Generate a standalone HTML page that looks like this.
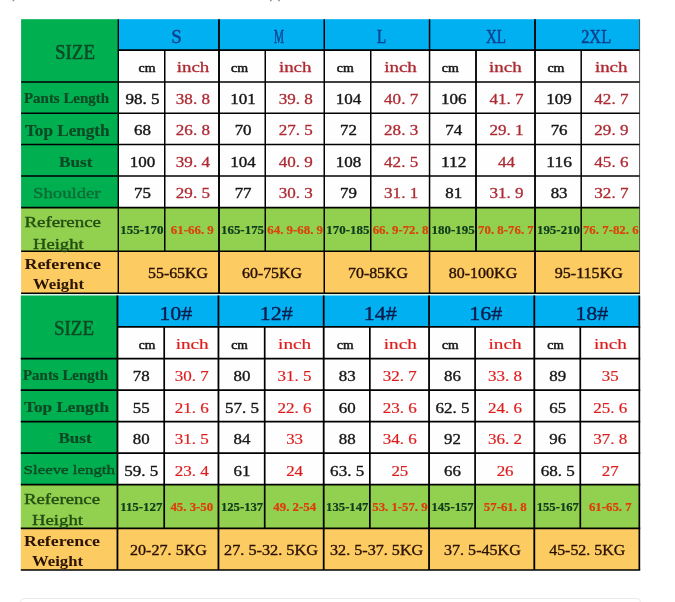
<!DOCTYPE html>
<html lang="en"><head><meta charset="utf-8"><title>Size chart</title>
<style>
html,body{margin:0;padding:0;background:#fff;overflow:hidden}
svg{display:block}
text{font-family:"Liberation Serif","Noto Serif CJK SC",serif;white-space:pre;stroke-linejoin:round}
</style></head><body>
<svg width="675" height="602" viewBox="0 0 675 602">
<defs>
<filter id="soft1" x="-2%" y="-2%" width="104%" height="104%"><feGaussianBlur stdDeviation="0.33"/></filter>
<filter id="soft2" x="-2%" y="-2%" width="104%" height="104%"><feGaussianBlur stdDeviation="0.25"/></filter>
</defs>
<rect width="675" height="602" fill="#ffffff"/>
<g filter="url(#soft1)">
<rect x="21.10" y="19.20" width="97.20" height="188.40" fill="#02af50"/>
<rect x="118.30" y="19.20" width="521.30" height="30.90" fill="#02b0f0"/>
<rect x="118.30" y="50.10" width="521.30" height="157.50" fill="#fefefe"/>
<rect x="21.10" y="207.60" width="618.50" height="43.60" fill="#92d050"/>
<rect x="21.10" y="251.20" width="618.50" height="42.10" fill="#fccb62"/>
<line x1="118.30" y1="50.10" x2="640.05" y2="50.10" stroke="#000000" stroke-width="1.55"/>
<line x1="21.10" y1="81.90" x2="640.05" y2="81.90" stroke="#000000" stroke-width="1.55"/>
<line x1="21.10" y1="113.20" x2="640.05" y2="113.20" stroke="#000000" stroke-width="1.55"/>
<line x1="21.10" y1="144.50" x2="640.05" y2="144.50" stroke="#000000" stroke-width="1.55"/>
<line x1="21.10" y1="176.00" x2="640.05" y2="176.00" stroke="#000000" stroke-width="1.55"/>
<line x1="21.10" y1="207.60" x2="640.05" y2="207.60" stroke="#000000" stroke-width="1.55"/>
<line x1="21.10" y1="251.20" x2="640.05" y2="251.20" stroke="#000000" stroke-width="1.55"/>
<line x1="21.10" y1="293.30" x2="640.05" y2="293.30" stroke="#000000" stroke-width="1.55"/>
<line x1="118.30" y1="19.20" x2="118.30" y2="293.30" stroke="#000000" stroke-width="1.4"/>
<line x1="164.75" y1="50.10" x2="164.75" y2="251.20" stroke="#000000" stroke-width="1.5"/>
<line x1="219.00" y1="19.20" x2="219.00" y2="293.30" stroke="#000000" stroke-width="1.9"/>
<line x1="265.25" y1="50.10" x2="265.25" y2="251.20" stroke="#000000" stroke-width="1.5"/>
<line x1="324.25" y1="19.20" x2="324.25" y2="293.30" stroke="#000000" stroke-width="1.5"/>
<line x1="370.75" y1="50.10" x2="370.75" y2="251.20" stroke="#000000" stroke-width="1.5"/>
<line x1="429.55" y1="19.20" x2="429.55" y2="293.30" stroke="#000000" stroke-width="1.5"/>
<line x1="476.00" y1="50.10" x2="476.00" y2="251.20" stroke="#000000" stroke-width="1.85"/>
<line x1="535.00" y1="19.20" x2="535.00" y2="293.30" stroke="#000000" stroke-width="1.85"/>
<line x1="581.20" y1="50.10" x2="581.20" y2="251.20" stroke="#000000" stroke-width="1.5"/>
<line x1="639.60" y1="19.20" x2="639.60" y2="293.30" stroke="#3a3a3a" stroke-width="0.9"/>
<text x="75.00" y="59.00" font-size="20.5" fill="#0b4a24" text-anchor="middle" stroke="#0b4a24" stroke-width="0.5" textLength="40.0" lengthAdjust="spacingAndGlyphs">SIZE</text>
<text x="176.60" y="43.20" font-size="19.2" fill="#0c3f8f" text-anchor="middle" stroke="#0c3f8f" stroke-width="0.45" textLength="10.5" lengthAdjust="spacingAndGlyphs">S</text>
<text x="279.00" y="43.20" font-size="19.2" fill="#0c3f8f" text-anchor="middle" stroke="#0c3f8f" stroke-width="0.45" textLength="10.0" lengthAdjust="spacingAndGlyphs">M</text>
<text x="381.50" y="43.20" font-size="19.2" fill="#0c3f8f" text-anchor="middle" stroke="#0c3f8f" stroke-width="0.45" textLength="9.2" lengthAdjust="spacingAndGlyphs">L</text>
<text x="496.00" y="43.20" font-size="19.2" fill="#0c3f8f" text-anchor="middle" stroke="#0c3f8f" stroke-width="0.45" textLength="20.0" lengthAdjust="spacingAndGlyphs">XL</text>
<text x="596.20" y="43.20" font-size="19.2" fill="#0c3f8f" text-anchor="middle" stroke="#0c3f8f" stroke-width="0.45" textLength="30.0" lengthAdjust="spacingAndGlyphs">2XL</text>
<text x="147.10" y="72.20" font-size="12.5" fill="#161616" text-anchor="middle" stroke="#161616" stroke-width="0.5" textLength="17.0" lengthAdjust="spacingAndGlyphs">cm</text>
<text x="239.60" y="72.20" font-size="12.5" fill="#161616" text-anchor="middle" stroke="#161616" stroke-width="0.5" textLength="17.0" lengthAdjust="spacingAndGlyphs">cm</text>
<text x="345.30" y="72.20" font-size="12.5" fill="#161616" text-anchor="middle" stroke="#161616" stroke-width="0.5" textLength="17.0" lengthAdjust="spacingAndGlyphs">cm</text>
<text x="450.30" y="72.20" font-size="12.5" fill="#161616" text-anchor="middle" stroke="#161616" stroke-width="0.5" textLength="17.0" lengthAdjust="spacingAndGlyphs">cm</text>
<text x="555.90" y="72.20" font-size="12.5" fill="#161616" text-anchor="middle" stroke="#161616" stroke-width="0.5" textLength="17.0" lengthAdjust="spacingAndGlyphs">cm</text>
<text x="193.00" y="72.30" font-size="15" fill="#ae2a33" text-anchor="middle" stroke="#ae2a33" stroke-width="0.3" textLength="32.6" lengthAdjust="spacingAndGlyphs">inch</text>
<text x="295.20" y="72.30" font-size="15" fill="#ae2a33" text-anchor="middle" stroke="#ae2a33" stroke-width="0.3" textLength="32.6" lengthAdjust="spacingAndGlyphs">inch</text>
<text x="400.50" y="72.30" font-size="15" fill="#ae2a33" text-anchor="middle" stroke="#ae2a33" stroke-width="0.3" textLength="32.6" lengthAdjust="spacingAndGlyphs">inch</text>
<text x="505.30" y="72.30" font-size="15" fill="#ae2a33" text-anchor="middle" stroke="#ae2a33" stroke-width="0.3" textLength="32.6" lengthAdjust="spacingAndGlyphs">inch</text>
<text x="611.20" y="72.30" font-size="15" fill="#ae2a33" text-anchor="middle" stroke="#ae2a33" stroke-width="0.3" textLength="32.6" lengthAdjust="spacingAndGlyphs">inch</text>
<text x="66.50" y="103.00" font-size="14" fill="#0b4a24" text-anchor="middle" font-weight="bold" stroke="#0b4a24" stroke-width="0.2" textLength="85.0" lengthAdjust="spacingAndGlyphs">Pants Length</text>
<text x="67.30" y="135.60" font-size="16" fill="#0b4a24" text-anchor="middle" font-weight="bold" stroke="#0b4a24" stroke-width="0.2" textLength="84.6" lengthAdjust="spacingAndGlyphs">Top Length</text>
<text x="75.70" y="166.60" font-size="15.5" fill="#0b4a24" text-anchor="middle" font-weight="bold" stroke="#0b4a24" stroke-width="0.2" textLength="33.4" lengthAdjust="spacingAndGlyphs">Bust</text>
<text x="66.80" y="198.00" font-size="15.5" fill="#0c6a33" text-anchor="middle" stroke="#0c6a33" stroke-width="0.3" textLength="67.6" lengthAdjust="spacingAndGlyphs">Shoulder</text>
<text x="142.53" y="104.10" font-size="15.2" fill="#161616" text-anchor="middle" stroke="#161616" stroke-width="0.4" textLength="34.1" lengthAdjust="spacingAndGlyphs">98. 5</text>
<text x="192.88" y="104.10" font-size="15.2" fill="#ae2a33" text-anchor="middle" stroke="#ae2a33" stroke-width="0.3" textLength="34.1" lengthAdjust="spacingAndGlyphs">38. 8</text>
<text x="243.12" y="104.10" font-size="15.2" fill="#161616" text-anchor="middle" stroke="#161616" stroke-width="0.4" textLength="25.5" lengthAdjust="spacingAndGlyphs">101</text>
<text x="295.75" y="104.10" font-size="15.2" fill="#ae2a33" text-anchor="middle" stroke="#ae2a33" stroke-width="0.3" textLength="34.1" lengthAdjust="spacingAndGlyphs">39. 8</text>
<text x="348.50" y="104.10" font-size="15.2" fill="#161616" text-anchor="middle" stroke="#161616" stroke-width="0.4" textLength="25.5" lengthAdjust="spacingAndGlyphs">104</text>
<text x="401.15" y="104.10" font-size="15.2" fill="#ae2a33" text-anchor="middle" stroke="#ae2a33" stroke-width="0.3" textLength="34.1" lengthAdjust="spacingAndGlyphs">40. 7</text>
<text x="453.77" y="104.10" font-size="15.2" fill="#161616" text-anchor="middle" stroke="#161616" stroke-width="0.4" textLength="25.5" lengthAdjust="spacingAndGlyphs">106</text>
<text x="506.50" y="104.10" font-size="15.2" fill="#ae2a33" text-anchor="middle" stroke="#ae2a33" stroke-width="0.3" textLength="34.1" lengthAdjust="spacingAndGlyphs">41. 7</text>
<text x="559.10" y="104.10" font-size="15.2" fill="#161616" text-anchor="middle" stroke="#161616" stroke-width="0.4" textLength="25.5" lengthAdjust="spacingAndGlyphs">109</text>
<text x="611.40" y="104.10" font-size="15.2" fill="#ae2a33" text-anchor="middle" stroke="#ae2a33" stroke-width="0.3" textLength="34.1" lengthAdjust="spacingAndGlyphs">42. 7</text>
<text x="142.53" y="135.40" font-size="15.2" fill="#161616" text-anchor="middle" stroke="#161616" stroke-width="0.4" textLength="16.9" lengthAdjust="spacingAndGlyphs">68</text>
<text x="192.88" y="135.40" font-size="15.2" fill="#ae2a33" text-anchor="middle" stroke="#ae2a33" stroke-width="0.3" textLength="34.1" lengthAdjust="spacingAndGlyphs">26. 8</text>
<text x="243.12" y="135.40" font-size="15.2" fill="#161616" text-anchor="middle" stroke="#161616" stroke-width="0.4" textLength="16.9" lengthAdjust="spacingAndGlyphs">70</text>
<text x="295.75" y="135.40" font-size="15.2" fill="#ae2a33" text-anchor="middle" stroke="#ae2a33" stroke-width="0.3" textLength="34.1" lengthAdjust="spacingAndGlyphs">27. 5</text>
<text x="348.50" y="135.40" font-size="15.2" fill="#161616" text-anchor="middle" stroke="#161616" stroke-width="0.4" textLength="16.9" lengthAdjust="spacingAndGlyphs">72</text>
<text x="401.15" y="135.40" font-size="15.2" fill="#ae2a33" text-anchor="middle" stroke="#ae2a33" stroke-width="0.3" textLength="34.1" lengthAdjust="spacingAndGlyphs">28. 3</text>
<text x="453.77" y="135.40" font-size="15.2" fill="#161616" text-anchor="middle" stroke="#161616" stroke-width="0.4" textLength="16.9" lengthAdjust="spacingAndGlyphs">74</text>
<text x="506.50" y="135.40" font-size="15.2" fill="#ae2a33" text-anchor="middle" stroke="#ae2a33" stroke-width="0.3" textLength="34.1" lengthAdjust="spacingAndGlyphs">29. 1</text>
<text x="559.10" y="135.40" font-size="15.2" fill="#161616" text-anchor="middle" stroke="#161616" stroke-width="0.4" textLength="16.9" lengthAdjust="spacingAndGlyphs">76</text>
<text x="611.40" y="135.40" font-size="15.2" fill="#ae2a33" text-anchor="middle" stroke="#ae2a33" stroke-width="0.3" textLength="34.1" lengthAdjust="spacingAndGlyphs">29. 9</text>
<text x="142.53" y="166.70" font-size="15.2" fill="#161616" text-anchor="middle" stroke="#161616" stroke-width="0.4" textLength="25.5" lengthAdjust="spacingAndGlyphs">100</text>
<text x="192.88" y="166.70" font-size="15.2" fill="#ae2a33" text-anchor="middle" stroke="#ae2a33" stroke-width="0.3" textLength="34.1" lengthAdjust="spacingAndGlyphs">39. 4</text>
<text x="243.12" y="166.70" font-size="15.2" fill="#161616" text-anchor="middle" stroke="#161616" stroke-width="0.4" textLength="25.5" lengthAdjust="spacingAndGlyphs">104</text>
<text x="295.75" y="166.70" font-size="15.2" fill="#ae2a33" text-anchor="middle" stroke="#ae2a33" stroke-width="0.3" textLength="34.1" lengthAdjust="spacingAndGlyphs">40. 9</text>
<text x="348.50" y="166.70" font-size="15.2" fill="#161616" text-anchor="middle" stroke="#161616" stroke-width="0.4" textLength="25.5" lengthAdjust="spacingAndGlyphs">108</text>
<text x="401.15" y="166.70" font-size="15.2" fill="#ae2a33" text-anchor="middle" stroke="#ae2a33" stroke-width="0.3" textLength="34.1" lengthAdjust="spacingAndGlyphs">42. 5</text>
<text x="453.77" y="166.70" font-size="15.2" fill="#161616" text-anchor="middle" stroke="#161616" stroke-width="0.4" textLength="25.5" lengthAdjust="spacingAndGlyphs">112</text>
<text x="506.50" y="166.70" font-size="15.2" fill="#ae2a33" text-anchor="middle" stroke="#ae2a33" stroke-width="0.3" textLength="16.9" lengthAdjust="spacingAndGlyphs">44</text>
<text x="559.10" y="166.70" font-size="15.2" fill="#161616" text-anchor="middle" stroke="#161616" stroke-width="0.4" textLength="25.5" lengthAdjust="spacingAndGlyphs">116</text>
<text x="611.40" y="166.70" font-size="15.2" fill="#ae2a33" text-anchor="middle" stroke="#ae2a33" stroke-width="0.3" textLength="34.1" lengthAdjust="spacingAndGlyphs">45. 6</text>
<text x="142.53" y="198.20" font-size="15.2" fill="#161616" text-anchor="middle" stroke="#161616" stroke-width="0.4" textLength="16.9" lengthAdjust="spacingAndGlyphs">75</text>
<text x="192.88" y="198.20" font-size="15.2" fill="#ae2a33" text-anchor="middle" stroke="#ae2a33" stroke-width="0.3" textLength="34.1" lengthAdjust="spacingAndGlyphs">29. 5</text>
<text x="243.12" y="198.20" font-size="15.2" fill="#161616" text-anchor="middle" stroke="#161616" stroke-width="0.4" textLength="16.9" lengthAdjust="spacingAndGlyphs">77</text>
<text x="295.75" y="198.20" font-size="15.2" fill="#ae2a33" text-anchor="middle" stroke="#ae2a33" stroke-width="0.3" textLength="34.1" lengthAdjust="spacingAndGlyphs">30. 3</text>
<text x="348.50" y="198.20" font-size="15.2" fill="#161616" text-anchor="middle" stroke="#161616" stroke-width="0.4" textLength="16.9" lengthAdjust="spacingAndGlyphs">79</text>
<text x="401.15" y="198.20" font-size="15.2" fill="#ae2a33" text-anchor="middle" stroke="#ae2a33" stroke-width="0.3" textLength="34.1" lengthAdjust="spacingAndGlyphs">31. 1</text>
<text x="453.77" y="198.20" font-size="15.2" fill="#161616" text-anchor="middle" stroke="#161616" stroke-width="0.4" textLength="16.9" lengthAdjust="spacingAndGlyphs">81</text>
<text x="506.50" y="198.20" font-size="15.2" fill="#ae2a33" text-anchor="middle" stroke="#ae2a33" stroke-width="0.3" textLength="34.1" lengthAdjust="spacingAndGlyphs">31. 9</text>
<text x="559.10" y="198.20" font-size="15.2" fill="#161616" text-anchor="middle" stroke="#161616" stroke-width="0.4" textLength="16.9" lengthAdjust="spacingAndGlyphs">83</text>
<text x="611.40" y="198.20" font-size="15.2" fill="#ae2a33" text-anchor="middle" stroke="#ae2a33" stroke-width="0.3" textLength="34.1" lengthAdjust="spacingAndGlyphs">32. 7</text>
<text x="62.70" y="226.60" font-size="15.5" fill="#234d12" text-anchor="middle" stroke="#234d12" stroke-width="0.4" textLength="76.6" lengthAdjust="spacingAndGlyphs">Reference</text>
<text x="58.30" y="248.60" font-size="15.5" fill="#234d12" text-anchor="middle" stroke="#234d12" stroke-width="0.4" textLength="50.6" lengthAdjust="spacingAndGlyphs">Height</text>
<text x="141.93" y="233.60" font-size="12" fill="#0e3a1c" text-anchor="middle" font-weight="bold" stroke="#0e3a1c" stroke-width="0.2" textLength="43.1" lengthAdjust="spacingAndGlyphs">155-170</text>
<text x="192.28" y="233.60" font-size="12" fill="#d9440c" text-anchor="middle" font-weight="bold" stroke="#d9440c" stroke-width="0.2" textLength="43.1" lengthAdjust="spacingAndGlyphs">61-66. 9</text>
<text x="242.53" y="233.60" font-size="12" fill="#0e3a1c" text-anchor="middle" font-weight="bold" stroke="#0e3a1c" stroke-width="0.2" textLength="43.1" lengthAdjust="spacingAndGlyphs">165-175</text>
<text x="295.15" y="233.60" font-size="12" fill="#d9440c" text-anchor="middle" font-weight="bold" stroke="#d9440c" stroke-width="0.2" textLength="55.7" lengthAdjust="spacingAndGlyphs">64. 9-68. 9</text>
<text x="347.90" y="233.60" font-size="12" fill="#0e3a1c" text-anchor="middle" font-weight="bold" stroke="#0e3a1c" stroke-width="0.2" textLength="43.1" lengthAdjust="spacingAndGlyphs">170-185</text>
<text x="400.55" y="233.60" font-size="12" fill="#d9440c" text-anchor="middle" font-weight="bold" stroke="#d9440c" stroke-width="0.2" textLength="55.7" lengthAdjust="spacingAndGlyphs">66. 9-72. 8</text>
<text x="453.17" y="233.60" font-size="12" fill="#0e3a1c" text-anchor="middle" font-weight="bold" stroke="#0e3a1c" stroke-width="0.2" textLength="43.1" lengthAdjust="spacingAndGlyphs">180-195</text>
<text x="505.90" y="233.60" font-size="12" fill="#d9440c" text-anchor="middle" font-weight="bold" stroke="#d9440c" stroke-width="0.2" textLength="55.7" lengthAdjust="spacingAndGlyphs">70. 8-76. 7</text>
<text x="558.50" y="233.60" font-size="12" fill="#0e3a1c" text-anchor="middle" font-weight="bold" stroke="#0e3a1c" stroke-width="0.2" textLength="43.1" lengthAdjust="spacingAndGlyphs">195-210</text>
<text x="610.80" y="233.60" font-size="12" fill="#d9440c" text-anchor="middle" font-weight="bold" stroke="#d9440c" stroke-width="0.2" textLength="55.7" lengthAdjust="spacingAndGlyphs">76. 7-82. 6</text>
<text x="62.70" y="268.60" font-size="15.5" fill="#2a1206" text-anchor="middle" font-weight="bold" textLength="76.6" lengthAdjust="spacingAndGlyphs">Reference</text>
<text x="58.50" y="289.00" font-size="15.5" fill="#2a1206" text-anchor="middle" font-weight="bold" textLength="51.0" lengthAdjust="spacingAndGlyphs">Weight</text>
<text x="178.00" y="278.20" font-size="15.2" fill="#2a1206" text-anchor="middle" stroke="#2a1206" stroke-width="0.4" textLength="60.0" lengthAdjust="spacingAndGlyphs">55-65KG</text>
<text x="272.00" y="278.20" font-size="15.2" fill="#2a1206" text-anchor="middle" stroke="#2a1206" stroke-width="0.4" textLength="60.0" lengthAdjust="spacingAndGlyphs">60-75KG</text>
<text x="378.00" y="278.20" font-size="15.2" fill="#2a1206" text-anchor="middle" stroke="#2a1206" stroke-width="0.4" textLength="60.0" lengthAdjust="spacingAndGlyphs">70-85KG</text>
<text x="483.00" y="278.20" font-size="15.2" fill="#2a1206" text-anchor="middle" stroke="#2a1206" stroke-width="0.4" textLength="68.4" lengthAdjust="spacingAndGlyphs">80-100KG</text>
<text x="588.80" y="278.20" font-size="15.2" fill="#2a1206" text-anchor="middle" stroke="#2a1206" stroke-width="0.4" textLength="68.0" lengthAdjust="spacingAndGlyphs">95-115KG</text>
<rect x="21.10" y="294.00" width="619.00" height="1.50" fill="#dcf2e2"/>
</g>
<g filter="url(#soft2)">
<rect x="20.80" y="295.50" width="96.65" height="189.20" fill="#02af50"/>
<rect x="117.45" y="295.50" width="521.90" height="31.40" fill="#02b0f0"/>
<rect x="117.45" y="326.90" width="521.90" height="157.80" fill="#fefefe"/>
<rect x="20.80" y="484.70" width="618.55" height="43.60" fill="#92d050"/>
<rect x="20.80" y="528.30" width="618.55" height="41.70" fill="#fccb62"/>
<line x1="117.45" y1="326.90" x2="640.20" y2="326.90" stroke="#000000" stroke-width="1.7"/>
<line x1="20.80" y1="358.70" x2="640.20" y2="358.70" stroke="#000000" stroke-width="1.7"/>
<line x1="20.80" y1="390.10" x2="640.20" y2="390.10" stroke="#000000" stroke-width="1.7"/>
<line x1="20.80" y1="421.60" x2="640.20" y2="421.60" stroke="#000000" stroke-width="1.7"/>
<line x1="20.80" y1="453.20" x2="640.20" y2="453.20" stroke="#000000" stroke-width="1.7"/>
<line x1="20.80" y1="484.70" x2="640.20" y2="484.70" stroke="#000000" stroke-width="1.7"/>
<line x1="20.80" y1="528.30" x2="640.20" y2="528.30" stroke="#000000" stroke-width="1.7"/>
<line x1="20.80" y1="570.00" x2="640.20" y2="570.00" stroke="#000000" stroke-width="1.7"/>
<line x1="117.45" y1="295.50" x2="117.45" y2="570.00" stroke="#000000" stroke-width="1.8"/>
<line x1="164.20" y1="326.90" x2="164.20" y2="528.30" stroke="#000000" stroke-width="1.7"/>
<line x1="218.45" y1="295.50" x2="218.45" y2="570.00" stroke="#000000" stroke-width="1.8"/>
<line x1="264.70" y1="326.90" x2="264.70" y2="528.30" stroke="#000000" stroke-width="1.7"/>
<line x1="323.70" y1="295.50" x2="323.70" y2="570.00" stroke="#000000" stroke-width="1.8"/>
<line x1="369.85" y1="326.90" x2="369.85" y2="528.30" stroke="#000000" stroke-width="1.7"/>
<line x1="429.05" y1="295.50" x2="429.05" y2="570.00" stroke="#000000" stroke-width="1.8"/>
<line x1="475.10" y1="326.90" x2="475.10" y2="528.30" stroke="#000000" stroke-width="1.7"/>
<line x1="534.30" y1="295.50" x2="534.30" y2="570.00" stroke="#000000" stroke-width="1.8"/>
<line x1="580.30" y1="326.90" x2="580.30" y2="528.30" stroke="#000000" stroke-width="1.7"/>
<line x1="639.35" y1="295.50" x2="639.35" y2="570.00" stroke="#000000" stroke-width="1.7"/>
<text x="74.00" y="335.00" font-size="20" fill="#0b4a24" text-anchor="middle" stroke="#0b4a24" stroke-width="0.5" textLength="40.0" lengthAdjust="spacingAndGlyphs">SIZE</text>
<text x="175.70" y="320.00" font-size="19.5" fill="#0a1c4c" text-anchor="middle" stroke="#0a1c4c" stroke-width="0.35" textLength="33.0" lengthAdjust="spacingAndGlyphs">10#</text>
<text x="276.20" y="320.00" font-size="19.5" fill="#0a1c4c" text-anchor="middle" stroke="#0a1c4c" stroke-width="0.35" textLength="33.0" lengthAdjust="spacingAndGlyphs">12#</text>
<text x="380.20" y="320.00" font-size="19.5" fill="#0a1c4c" text-anchor="middle" stroke="#0a1c4c" stroke-width="0.35" textLength="33.0" lengthAdjust="spacingAndGlyphs">14#</text>
<text x="485.80" y="320.00" font-size="19.5" fill="#0a1c4c" text-anchor="middle" stroke="#0a1c4c" stroke-width="0.35" textLength="33.0" lengthAdjust="spacingAndGlyphs">16#</text>
<text x="591.80" y="320.00" font-size="19.5" fill="#0a1c4c" text-anchor="middle" stroke="#0a1c4c" stroke-width="0.35" textLength="33.0" lengthAdjust="spacingAndGlyphs">18#</text>
<text x="147.00" y="348.90" font-size="12.5" fill="#161616" text-anchor="middle" stroke="#161616" stroke-width="0.5" textLength="16.6" lengthAdjust="spacingAndGlyphs">cm</text>
<text x="239.60" y="348.90" font-size="12.5" fill="#161616" text-anchor="middle" stroke="#161616" stroke-width="0.5" textLength="16.6" lengthAdjust="spacingAndGlyphs">cm</text>
<text x="345.30" y="348.90" font-size="12.5" fill="#161616" text-anchor="middle" stroke="#161616" stroke-width="0.5" textLength="16.6" lengthAdjust="spacingAndGlyphs">cm</text>
<text x="450.40" y="348.90" font-size="12.5" fill="#161616" text-anchor="middle" stroke="#161616" stroke-width="0.5" textLength="16.6" lengthAdjust="spacingAndGlyphs">cm</text>
<text x="555.60" y="348.90" font-size="12.5" fill="#161616" text-anchor="middle" stroke="#161616" stroke-width="0.5" textLength="16.6" lengthAdjust="spacingAndGlyphs">cm</text>
<text x="192.20" y="349.00" font-size="15" fill="#de1f1f" text-anchor="middle" stroke="#de1f1f" stroke-width="0.2" textLength="33.0" lengthAdjust="spacingAndGlyphs">inch</text>
<text x="294.60" y="349.00" font-size="15" fill="#de1f1f" text-anchor="middle" stroke="#de1f1f" stroke-width="0.2" textLength="33.0" lengthAdjust="spacingAndGlyphs">inch</text>
<text x="400.30" y="349.00" font-size="15" fill="#de1f1f" text-anchor="middle" stroke="#de1f1f" stroke-width="0.2" textLength="33.0" lengthAdjust="spacingAndGlyphs">inch</text>
<text x="505.00" y="349.00" font-size="15" fill="#de1f1f" text-anchor="middle" stroke="#de1f1f" stroke-width="0.2" textLength="33.0" lengthAdjust="spacingAndGlyphs">inch</text>
<text x="610.40" y="349.00" font-size="15" fill="#de1f1f" text-anchor="middle" stroke="#de1f1f" stroke-width="0.2" textLength="33.0" lengthAdjust="spacingAndGlyphs">inch</text>
<text x="65.50" y="379.60" font-size="14" fill="#0b4a24" text-anchor="middle" font-weight="bold" stroke="#0b4a24" stroke-width="0.2" textLength="85.0" lengthAdjust="spacingAndGlyphs">Pants Length</text>
<text x="66.50" y="412.00" font-size="15.5" fill="#0b4a24" text-anchor="middle" font-weight="bold" stroke="#0b4a24" stroke-width="0.2" textLength="85.0" lengthAdjust="spacingAndGlyphs">Top Length</text>
<text x="75.00" y="443.00" font-size="15" fill="#0b4a24" text-anchor="middle" font-weight="bold" stroke="#0b4a24" stroke-width="0.2" textLength="33.2" lengthAdjust="spacingAndGlyphs">Bust</text>
<text x="69.30" y="474.00" font-size="12.5" fill="#0b4a24" text-anchor="middle" stroke="#0b4a24" stroke-width="0.35" textLength="91.4" lengthAdjust="spacingAndGlyphs">Sleeve length</text>
<text x="141.22" y="381.20" font-size="15.2" fill="#161616" text-anchor="middle" stroke="#161616" stroke-width="0.35" textLength="16.9" lengthAdjust="spacingAndGlyphs">78</text>
<text x="191.72" y="381.20" font-size="15.2" fill="#de1f1f" text-anchor="middle" stroke="#de1f1f" stroke-width="0.2" textLength="34.1" lengthAdjust="spacingAndGlyphs">30. 7</text>
<text x="241.97" y="381.20" font-size="15.2" fill="#161616" text-anchor="middle" stroke="#161616" stroke-width="0.35" textLength="16.9" lengthAdjust="spacingAndGlyphs">80</text>
<text x="294.60" y="381.20" font-size="15.2" fill="#de1f1f" text-anchor="middle" stroke="#de1f1f" stroke-width="0.2" textLength="34.1" lengthAdjust="spacingAndGlyphs">31. 5</text>
<text x="347.17" y="381.20" font-size="15.2" fill="#161616" text-anchor="middle" stroke="#161616" stroke-width="0.35" textLength="16.9" lengthAdjust="spacingAndGlyphs">83</text>
<text x="399.85" y="381.20" font-size="15.2" fill="#de1f1f" text-anchor="middle" stroke="#de1f1f" stroke-width="0.2" textLength="34.1" lengthAdjust="spacingAndGlyphs">32. 7</text>
<text x="452.48" y="381.20" font-size="15.2" fill="#161616" text-anchor="middle" stroke="#161616" stroke-width="0.35" textLength="16.9" lengthAdjust="spacingAndGlyphs">86</text>
<text x="505.10" y="381.20" font-size="15.2" fill="#de1f1f" text-anchor="middle" stroke="#de1f1f" stroke-width="0.2" textLength="34.1" lengthAdjust="spacingAndGlyphs">33. 8</text>
<text x="557.70" y="381.20" font-size="15.2" fill="#161616" text-anchor="middle" stroke="#161616" stroke-width="0.35" textLength="16.9" lengthAdjust="spacingAndGlyphs">89</text>
<text x="610.23" y="381.20" font-size="15.2" fill="#de1f1f" text-anchor="middle" stroke="#de1f1f" stroke-width="0.2" textLength="16.9" lengthAdjust="spacingAndGlyphs">35</text>
<text x="141.22" y="412.60" font-size="15.2" fill="#161616" text-anchor="middle" stroke="#161616" stroke-width="0.35" textLength="16.9" lengthAdjust="spacingAndGlyphs">55</text>
<text x="191.72" y="412.60" font-size="15.2" fill="#de1f1f" text-anchor="middle" stroke="#de1f1f" stroke-width="0.2" textLength="34.1" lengthAdjust="spacingAndGlyphs">21. 6</text>
<text x="241.97" y="412.60" font-size="15.2" fill="#161616" text-anchor="middle" stroke="#161616" stroke-width="0.35" textLength="34.1" lengthAdjust="spacingAndGlyphs">57. 5</text>
<text x="294.60" y="412.60" font-size="15.2" fill="#de1f1f" text-anchor="middle" stroke="#de1f1f" stroke-width="0.2" textLength="34.1" lengthAdjust="spacingAndGlyphs">22. 6</text>
<text x="347.17" y="412.60" font-size="15.2" fill="#161616" text-anchor="middle" stroke="#161616" stroke-width="0.35" textLength="16.9" lengthAdjust="spacingAndGlyphs">60</text>
<text x="399.85" y="412.60" font-size="15.2" fill="#de1f1f" text-anchor="middle" stroke="#de1f1f" stroke-width="0.2" textLength="34.1" lengthAdjust="spacingAndGlyphs">23. 6</text>
<text x="452.48" y="412.60" font-size="15.2" fill="#161616" text-anchor="middle" stroke="#161616" stroke-width="0.35" textLength="34.1" lengthAdjust="spacingAndGlyphs">62. 5</text>
<text x="505.10" y="412.60" font-size="15.2" fill="#de1f1f" text-anchor="middle" stroke="#de1f1f" stroke-width="0.2" textLength="34.1" lengthAdjust="spacingAndGlyphs">24. 6</text>
<text x="557.70" y="412.60" font-size="15.2" fill="#161616" text-anchor="middle" stroke="#161616" stroke-width="0.35" textLength="16.9" lengthAdjust="spacingAndGlyphs">65</text>
<text x="610.23" y="412.60" font-size="15.2" fill="#de1f1f" text-anchor="middle" stroke="#de1f1f" stroke-width="0.2" textLength="34.1" lengthAdjust="spacingAndGlyphs">25. 6</text>
<text x="141.22" y="444.10" font-size="15.2" fill="#161616" text-anchor="middle" stroke="#161616" stroke-width="0.35" textLength="16.9" lengthAdjust="spacingAndGlyphs">80</text>
<text x="191.72" y="444.10" font-size="15.2" fill="#de1f1f" text-anchor="middle" stroke="#de1f1f" stroke-width="0.2" textLength="34.1" lengthAdjust="spacingAndGlyphs">31. 5</text>
<text x="241.97" y="444.10" font-size="15.2" fill="#161616" text-anchor="middle" stroke="#161616" stroke-width="0.35" textLength="16.9" lengthAdjust="spacingAndGlyphs">84</text>
<text x="294.60" y="444.10" font-size="15.2" fill="#de1f1f" text-anchor="middle" stroke="#de1f1f" stroke-width="0.2" textLength="16.9" lengthAdjust="spacingAndGlyphs">33</text>
<text x="347.17" y="444.10" font-size="15.2" fill="#161616" text-anchor="middle" stroke="#161616" stroke-width="0.35" textLength="16.9" lengthAdjust="spacingAndGlyphs">88</text>
<text x="399.85" y="444.10" font-size="15.2" fill="#de1f1f" text-anchor="middle" stroke="#de1f1f" stroke-width="0.2" textLength="34.1" lengthAdjust="spacingAndGlyphs">34. 6</text>
<text x="452.48" y="444.10" font-size="15.2" fill="#161616" text-anchor="middle" stroke="#161616" stroke-width="0.35" textLength="16.9" lengthAdjust="spacingAndGlyphs">92</text>
<text x="505.10" y="444.10" font-size="15.2" fill="#de1f1f" text-anchor="middle" stroke="#de1f1f" stroke-width="0.2" textLength="34.1" lengthAdjust="spacingAndGlyphs">36. 2</text>
<text x="557.70" y="444.10" font-size="15.2" fill="#161616" text-anchor="middle" stroke="#161616" stroke-width="0.35" textLength="16.9" lengthAdjust="spacingAndGlyphs">96</text>
<text x="610.23" y="444.10" font-size="15.2" fill="#de1f1f" text-anchor="middle" stroke="#de1f1f" stroke-width="0.2" textLength="34.1" lengthAdjust="spacingAndGlyphs">37. 8</text>
<text x="141.22" y="475.70" font-size="15.2" fill="#161616" text-anchor="middle" stroke="#161616" stroke-width="0.35" textLength="34.1" lengthAdjust="spacingAndGlyphs">59. 5</text>
<text x="191.72" y="475.70" font-size="15.2" fill="#de1f1f" text-anchor="middle" stroke="#de1f1f" stroke-width="0.2" textLength="34.1" lengthAdjust="spacingAndGlyphs">23. 4</text>
<text x="241.97" y="475.70" font-size="15.2" fill="#161616" text-anchor="middle" stroke="#161616" stroke-width="0.35" textLength="16.9" lengthAdjust="spacingAndGlyphs">61</text>
<text x="294.60" y="475.70" font-size="15.2" fill="#de1f1f" text-anchor="middle" stroke="#de1f1f" stroke-width="0.2" textLength="16.9" lengthAdjust="spacingAndGlyphs">24</text>
<text x="347.17" y="475.70" font-size="15.2" fill="#161616" text-anchor="middle" stroke="#161616" stroke-width="0.35" textLength="34.1" lengthAdjust="spacingAndGlyphs">63. 5</text>
<text x="399.85" y="475.70" font-size="15.2" fill="#de1f1f" text-anchor="middle" stroke="#de1f1f" stroke-width="0.2" textLength="16.9" lengthAdjust="spacingAndGlyphs">25</text>
<text x="452.48" y="475.70" font-size="15.2" fill="#161616" text-anchor="middle" stroke="#161616" stroke-width="0.35" textLength="16.9" lengthAdjust="spacingAndGlyphs">66</text>
<text x="505.10" y="475.70" font-size="15.2" fill="#de1f1f" text-anchor="middle" stroke="#de1f1f" stroke-width="0.2" textLength="16.9" lengthAdjust="spacingAndGlyphs">26</text>
<text x="557.70" y="475.70" font-size="15.2" fill="#161616" text-anchor="middle" stroke="#161616" stroke-width="0.35" textLength="34.1" lengthAdjust="spacingAndGlyphs">68. 5</text>
<text x="610.23" y="475.70" font-size="15.2" fill="#de1f1f" text-anchor="middle" stroke="#de1f1f" stroke-width="0.2" textLength="16.9" lengthAdjust="spacingAndGlyphs">27</text>
<text x="62.00" y="503.60" font-size="15.5" fill="#234d12" text-anchor="middle" stroke="#234d12" stroke-width="0.4" textLength="76.0" lengthAdjust="spacingAndGlyphs">Reference</text>
<text x="57.50" y="525.00" font-size="15.5" fill="#234d12" text-anchor="middle" stroke="#234d12" stroke-width="0.4" textLength="51.0" lengthAdjust="spacingAndGlyphs">Height</text>
<text x="141.32" y="511.00" font-size="12" fill="#0e3a1c" text-anchor="middle" font-weight="bold" stroke="#0e3a1c" stroke-width="0.2" textLength="42.3" lengthAdjust="spacingAndGlyphs">115-127</text>
<text x="191.82" y="511.00" font-size="12" fill="#df3a0c" text-anchor="middle" font-weight="bold" stroke="#df3a0c" stroke-width="0.2" textLength="42.7" lengthAdjust="spacingAndGlyphs">45. 3-50</text>
<text x="242.07" y="511.00" font-size="12" fill="#0e3a1c" text-anchor="middle" font-weight="bold" stroke="#0e3a1c" stroke-width="0.2" textLength="42.3" lengthAdjust="spacingAndGlyphs">125-137</text>
<text x="294.70" y="511.00" font-size="12" fill="#df3a0c" text-anchor="middle" font-weight="bold" stroke="#df3a0c" stroke-width="0.2" textLength="42.7" lengthAdjust="spacingAndGlyphs">49. 2-54</text>
<text x="347.27" y="511.00" font-size="12" fill="#0e3a1c" text-anchor="middle" font-weight="bold" stroke="#0e3a1c" stroke-width="0.2" textLength="42.3" lengthAdjust="spacingAndGlyphs">135-147</text>
<text x="399.95" y="511.00" font-size="12" fill="#df3a0c" text-anchor="middle" font-weight="bold" stroke="#df3a0c" stroke-width="0.2" textLength="55.3" lengthAdjust="spacingAndGlyphs">53. 1-57. 9</text>
<text x="452.58" y="511.00" font-size="12" fill="#0e3a1c" text-anchor="middle" font-weight="bold" stroke="#0e3a1c" stroke-width="0.2" textLength="42.3" lengthAdjust="spacingAndGlyphs">145-157</text>
<text x="505.20" y="511.00" font-size="12" fill="#df3a0c" text-anchor="middle" font-weight="bold" stroke="#df3a0c" stroke-width="0.2" textLength="42.7" lengthAdjust="spacingAndGlyphs">57-61. 8</text>
<text x="557.80" y="511.00" font-size="12" fill="#0e3a1c" text-anchor="middle" font-weight="bold" stroke="#0e3a1c" stroke-width="0.2" textLength="42.3" lengthAdjust="spacingAndGlyphs">155-167</text>
<text x="610.33" y="511.00" font-size="12" fill="#df3a0c" text-anchor="middle" font-weight="bold" stroke="#df3a0c" stroke-width="0.2" textLength="42.7" lengthAdjust="spacingAndGlyphs">61-65. 7</text>
<text x="62.00" y="546.00" font-size="15.5" fill="#2a1206" text-anchor="middle" font-weight="bold" textLength="76.0" lengthAdjust="spacingAndGlyphs">Reference</text>
<text x="57.50" y="566.00" font-size="15.5" fill="#2a1206" text-anchor="middle" font-weight="bold" textLength="51.0" lengthAdjust="spacingAndGlyphs">Weight</text>
<text x="168.50" y="555.00" font-size="15" fill="#2a1206" text-anchor="middle" stroke="#2a1206" stroke-width="0.35" textLength="77.0" lengthAdjust="spacingAndGlyphs">20-27. 5KG</text>
<text x="271.00" y="555.00" font-size="15" fill="#2a1206" text-anchor="middle" stroke="#2a1206" stroke-width="0.35" textLength="94.0" lengthAdjust="spacingAndGlyphs">27. 5-32. 5KG</text>
<text x="376.60" y="555.00" font-size="15" fill="#2a1206" text-anchor="middle" stroke="#2a1206" stroke-width="0.35" textLength="93.2" lengthAdjust="spacingAndGlyphs">32. 5-37. 5KG</text>
<text x="482.40" y="555.00" font-size="15" fill="#2a1206" text-anchor="middle" stroke="#2a1206" stroke-width="0.35" textLength="76.8" lengthAdjust="spacingAndGlyphs">37. 5-45KG</text>
<text x="587.20" y="555.00" font-size="15" fill="#2a1206" text-anchor="middle" stroke="#2a1206" stroke-width="0.35" textLength="76.0" lengthAdjust="spacingAndGlyphs">45-52. 5KG</text>
</g>
<rect x="12.60" y="0.00" width="1.60" height="1.20" fill="#8a8a8a"/>
<rect x="270.00" y="0.00" width="1.60" height="1.20" fill="#8a8a8a"/>
<rect x="278.20" y="0.00" width="1.60" height="1.20" fill="#8a8a8a"/>
<rect x="20.5" y="598.5" width="620" height="20" rx="4" ry="4" fill="#fff" stroke="#e9e9e9" stroke-width="1"/>
</svg>
</body></html>
